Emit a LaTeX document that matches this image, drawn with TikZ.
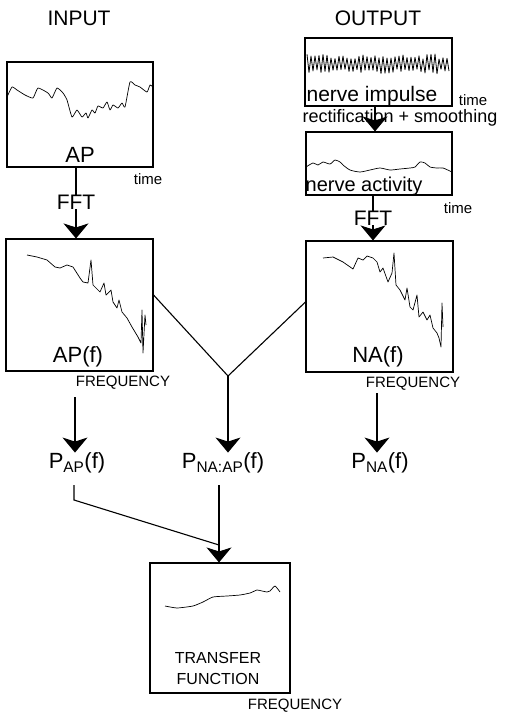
\documentclass[tikz,border=0pt]{standalone}
\usepackage{fontspec}
\setmainfont{Liberation Sans}
\usetikzlibrary{arrows.meta,positioning,calc}
\tikzset{
    every node/.style={inner sep=0pt},
    panel/.style={draw,line width=1.1pt,inner sep=0pt},
    title/.style={font=\fontsize{21}{24}\selectfont},
    boxlabel/.style={font=\fontsize{22}{24}\selectfont},
    wavelabel/.style={font=\fontsize{20}{22}\selectfont},
    note/.style={font=\fontsize{15}{17}\selectfont},
    caps/.style={font=\fontsize{15}{17}\selectfont},
    trace/.style={line width=0.7pt,line join=round},
    link/.style={line width=1.1pt},
    arr/.style={line width=1.1pt,-{Stealth[length=15pt,width=25pt,inset=4pt]}}
}

\begin{document}
\begin{tikzpicture}[x=1pt,y=-1pt]
\useasboundingbox (0,0) rectangle (519,715);

% titles
\node[title] (inp) at (79,18) {INPUT};
\node[title] (outp) at (378,18) {OUTPUT};

% panels
\node[panel,minimum width=146pt,minimum height=105pt] (ap) at (80,114.5) {};
\node[panel,minimum width=147pt,minimum height=132pt] (apf) at (79.5,305) {};
\node[panel,minimum width=147pt,minimum height=68pt] (imp) at (378.5,72) {};
\node[panel,minimum width=146pt,minimum height=63pt] (act) at (379,163.5) {};
\node[panel,minimum width=147pt,minimum height=131pt] (naf) at (379.5,306.5) {};
\node[panel,minimum width=140pt,minimum height=130pt] (tf) at (220,628) {};

% labels in and around panels
\node[boxlabel] (apL) at (80,155) {AP};
\node[note] (apT) at (148,179) {time};
\node[boxlabel] (apfL) at (78,357) {AP(f)};
\node[caps] (apfF) at (123,383) {FREQUENCY};
\node[wavelabel,font=\fontsize{21}{22}\selectfont] (impL) at (372,96) {nerve impulse};
\node[note] (impT) at (473,100) {time};
\node[wavelabel,font=\fontsize{18}{20}\selectfont] (rect) at (400,118) {rectification + smoothing};
\node[wavelabel] (actL) at (364,186) {nerve activity};
\node[note] (actT) at (458,208) {time};
\node[boxlabel] (nafL) at (378,357) {NA(f)};
\node[caps] (nafF) at (413,384) {FREQUENCY};
\node[caps,font=\fontsize{16}{18}\selectfont] (tfA) at (218,658) {TRANSFER};
\node[caps,font=\fontsize{16}{18}\selectfont] (tfB) at (218,679) {FUNCTION};
\node[caps] (tfF) at (295,706) {FREQUENCY};

% FFT steps
\node[boxlabel,font=\fontsize{21}{22}\selectfont] (fftA) at (76,202) {FFT};
\node[boxlabel,font=\fontsize{21}{22}\selectfont] (fftB) at (373,218) {FFT};

% spectra
\node[boxlabel] (pap) at (77,463) {P\textsubscript{AP}(f)};
\node[boxlabel] (pnaap) at (223,463) {P\textsubscript{NA:AP}(f)};
\node[boxlabel] (pna) at (380,463) {P\textsubscript{NA}(f)};

% waveforms
\draw[trace] plot[smooth,tension=0.3] coordinates {(7,97) (12,87) (17,90) (25,95) (33,98) (38,88) (48,93) (52,98) (57,88) (63,93) (67,100) (72,117) (77,110) (82,117) (86,113) (88,118) (92,110) (95,113) (98,106) (103,108) (107,102) (110,110) (113,105) (118,108) (122,103) (125,107) (130,82) (135,85) (140,87) (147,92) (150,85) (153,87)};
\pgfmathsetseed{11}
\draw[trace,line width=0.8pt] plot[domain=0:71,samples=72] (307+2*\x,{64+(2*mod(\x,2)-1)*(5+5*rnd)});
\draw[trace] plot[smooth,tension=0.4] coordinates {(306,167) (313,163) (318,165) (323,162) (330,164) (335,160) (340,162) (343,165) (350,170) (360,172) (370,170) (380,168) (390,170) (400,169) (410,168) (415,167) (420,162) (425,163) (430,167) (437,168) (443,168) (452,172)};
\draw[trace] plot coordinates {(27,255) (37,257) (47,260) (55,267) (60,268) (67,265) (73,267) (80,278) (83,282) (88,283) (91,260) (93,285) (100,292) (104,283) (106,295) (111,290) (113,302) (117,308) (119,300) (122,312) (127,318) (132,327) (135,332) (138,337) (141,343) (142,310) (143,353) (145,315) (146,325)};
\draw[trace] plot coordinates {(323,258) (333,257) (343,262) (353,269) (358,258) (363,260) (367,256) (373,258) (377,262) (380,272) (383,268) (388,282) (392,273) (394,253) (396,285) (400,290) (405,300) (407,288) (410,307) (413,310) (417,295) (419,317) (423,312) (427,320) (430,315) (433,328) (437,333) (439,338) (441,347) (442,303) (443,327)};
\draw[trace] plot[smooth,tension=0.3] coordinates {(165,606) (177,608) (193,606) (203,602) (213,597) (227,596) (240,595) (250,593) (257,590) (262,591) (267,592) (270,591) (275,586) (280,592)};

% connectors
\draw[link] (fftA |- ap.south) -- (fftA.north);
\draw[arr] (fftA.south) -- (fftA |- apf.north);
\coordinate (rc) at (375,0);
\draw[arr] (rc |- imp.south) -- (rc |- act.north);
\draw[link] (fftB |- act.south) -- (fftB.north);
\draw[arr] (fftB.south) -- (fftB |- naf.north);
\coordinate (junc) at (228,376);
\draw[link] ([yshift=10pt]apf.east) -- (junc) -- ([yshift=4.5pt]naf.west);
\draw[arr] (junc) -- (junc |- pnaap.north);
\coordinate (sa) at (75,397);
\draw[arr] (sa) -- (sa |- pap.north);
\coordinate (sb) at (377,393);
\draw[arr] (sb) -- (sb |- pna.north);
\coordinate (ka) at (74,485);
\coordinate (kb) at (74,500);
\coordinate (kc) at (219,485);
\coordinate (mt) at (219,545);
\draw[link] (ka) -- (kb) -- (mt);
\draw[arr] (kc) -- (kc |- tf.north);
\end{tikzpicture}
\end{document}
